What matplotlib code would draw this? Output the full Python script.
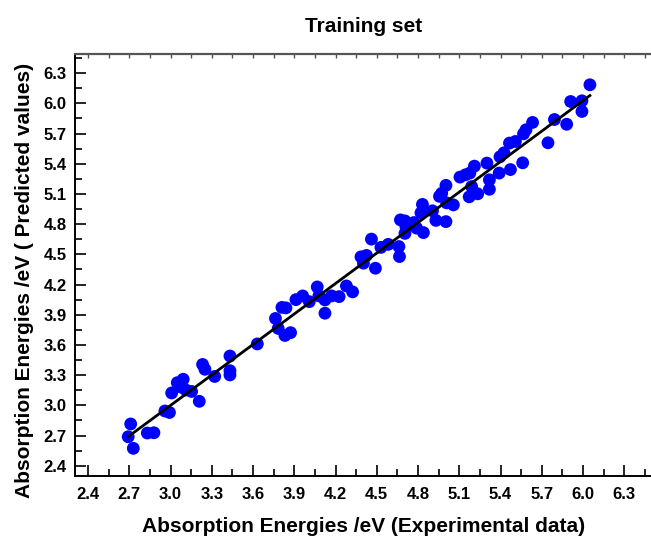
import matplotlib
matplotlib.use("Agg")
import matplotlib.pyplot as plt
import numpy as np
from matplotlib.ticker import MultipleLocator

plt.rcParams['font.family'] = ['Liberation Sans', 'DejaVu Sans']
plt.rcParams['font.weight'] = 'bold'

# experimental vs predicted absorption energies (eV)
exp_ev = [2.710, 2.692, 2.729, 2.831, 2.879, 2.959, 2.992, 3.008, 3.049, 3.092,
          3.081, 3.112, 3.153, 3.209, 3.233, 3.250, 3.321, 3.432, 3.432, 3.432,
          3.631, 3.763, 3.783, 3.810, 3.839, 3.832, 3.873, 3.912, 3.961, 4.009,
          4.067, 4.079, 4.123, 4.123, 4.172, 4.226, 4.279, 4.324, 4.385, 4.425,
          4.403, 4.461, 4.490, 4.530, 4.583, 4.661, 4.665, 4.672, 4.705, 4.712,
          4.705, 4.770, 4.790, 4.839, 4.821, 4.832, 4.905, 4.930, 4.956, 4.972,
          5.003, 5.003, 5.008, 5.057, 5.105, 5.145, 5.177, 5.210, 5.190, 5.172,
          5.234, 5.301, 5.319, 5.319, 5.390, 5.396, 5.425, 5.465, 5.508, 5.472,
          5.561, 5.567, 5.585, 5.633, 5.745, 5.792, 5.881, 5.910, 5.992, 5.992,
          6.050]
pred_ev = [2.815, 2.688, 2.573, 2.725, 2.728, 2.944, 2.929, 3.123, 3.225, 3.259,
           3.179, 3.152, 3.138, 3.040, 3.406, 3.358, 3.287, 3.490, 3.344, 3.302,
           3.610, 3.863, 3.764, 3.973, 3.968, 3.694, 3.722, 4.050, 4.087, 4.030,
           4.176, 4.087, 4.047, 3.915, 4.087, 4.080, 4.186, 4.127, 4.475, 4.489,
           4.412, 4.651, 4.362, 4.569, 4.599, 4.577, 4.478, 4.842, 4.832, 4.773,
           4.708, 4.816, 4.760, 4.716, 4.912, 4.996, 4.932, 4.837, 5.076, 5.106,
           5.185, 4.825, 5.011, 4.991, 5.267, 5.290, 5.307, 5.376, 5.173, 5.071,
           5.101, 5.406, 5.240, 5.146, 5.307, 5.469, 5.508, 5.605, 5.621, 5.342,
           5.409, 5.697, 5.737, 5.810, 5.608, 5.839, 5.792, 6.018, 6.025, 5.919,
           6.184]

x = np.array(exp_ev)
y = np.array(pred_ev)
p = np.polyfit(x, y, 1)
xf = np.array([x.min(), x.max()])

fig = plt.figure(figsize=(6.51, 5.36), dpi=100)
ax = fig.add_axes([0.1152, 0.1119, 0.886, 0.7874])

ax.scatter(x, y, s=85, color='#0000ff', edgecolors='none', zorder=3)
ax.plot(xf, np.polyval(p, xf), color='black', lw=2.0, zorder=4)

ax.set_xlim(2.305, 6.5)
ax.set_ylim(2.298, 6.49)
ax.xaxis.set_minor_locator(MultipleLocator(0.15))
ax.yaxis.set_minor_locator(MultipleLocator(0.15))
ax.set_xticks(np.arange(2.4, 6.31, 0.3))
ax.set_yticks(np.arange(2.4, 6.31, 0.3))
ax.xaxis.set_major_formatter(plt.FormatStrFormatter('%.1f'))
ax.yaxis.set_major_formatter(plt.FormatStrFormatter('%.1f'))

ax.tick_params(which='both', direction='in', width=1.2, labelsize=12)
ax.tick_params(which='major', length=8)
ax.tick_params(which='minor', length=5)
ax.tick_params(axis='x', pad=8)
ax.tick_params(axis='y', pad=6)
for t in ax.get_xticklabels() + ax.get_yticklabels():
    t.set_fontweight('bold')

ax.spines['right'].set_visible(False)
ax.spines['left'].set_linewidth(1.4)
ax.spines['bottom'].set_linewidth(1.4)
ax.spines['top'].set_color('#555555')
ax.spines['top'].set_linewidth(1.6)

top = ax.secondary_xaxis('top')
top.set_xticks(np.arange(2.4, 6.5, 0.15))
top.tick_params(direction='in', length=3, width=1, color='#555555', labeltop=False)
top.spines['top'].set_visible(False)

ax.set_title('Training set', fontsize=15, fontweight='bold', pad=16)
ax.set_xlabel('Absorption Energies /eV (Experimental data)', fontsize=15,
              fontweight='bold', labelpad=11)
ax.set_ylabel('Absorption Energies /eV ( Predicted values)', fontsize=15,
              fontweight='bold')
ax.yaxis.set_label_coords(-0.071, 0.464)

fig.savefig('out.png', dpi=100)
